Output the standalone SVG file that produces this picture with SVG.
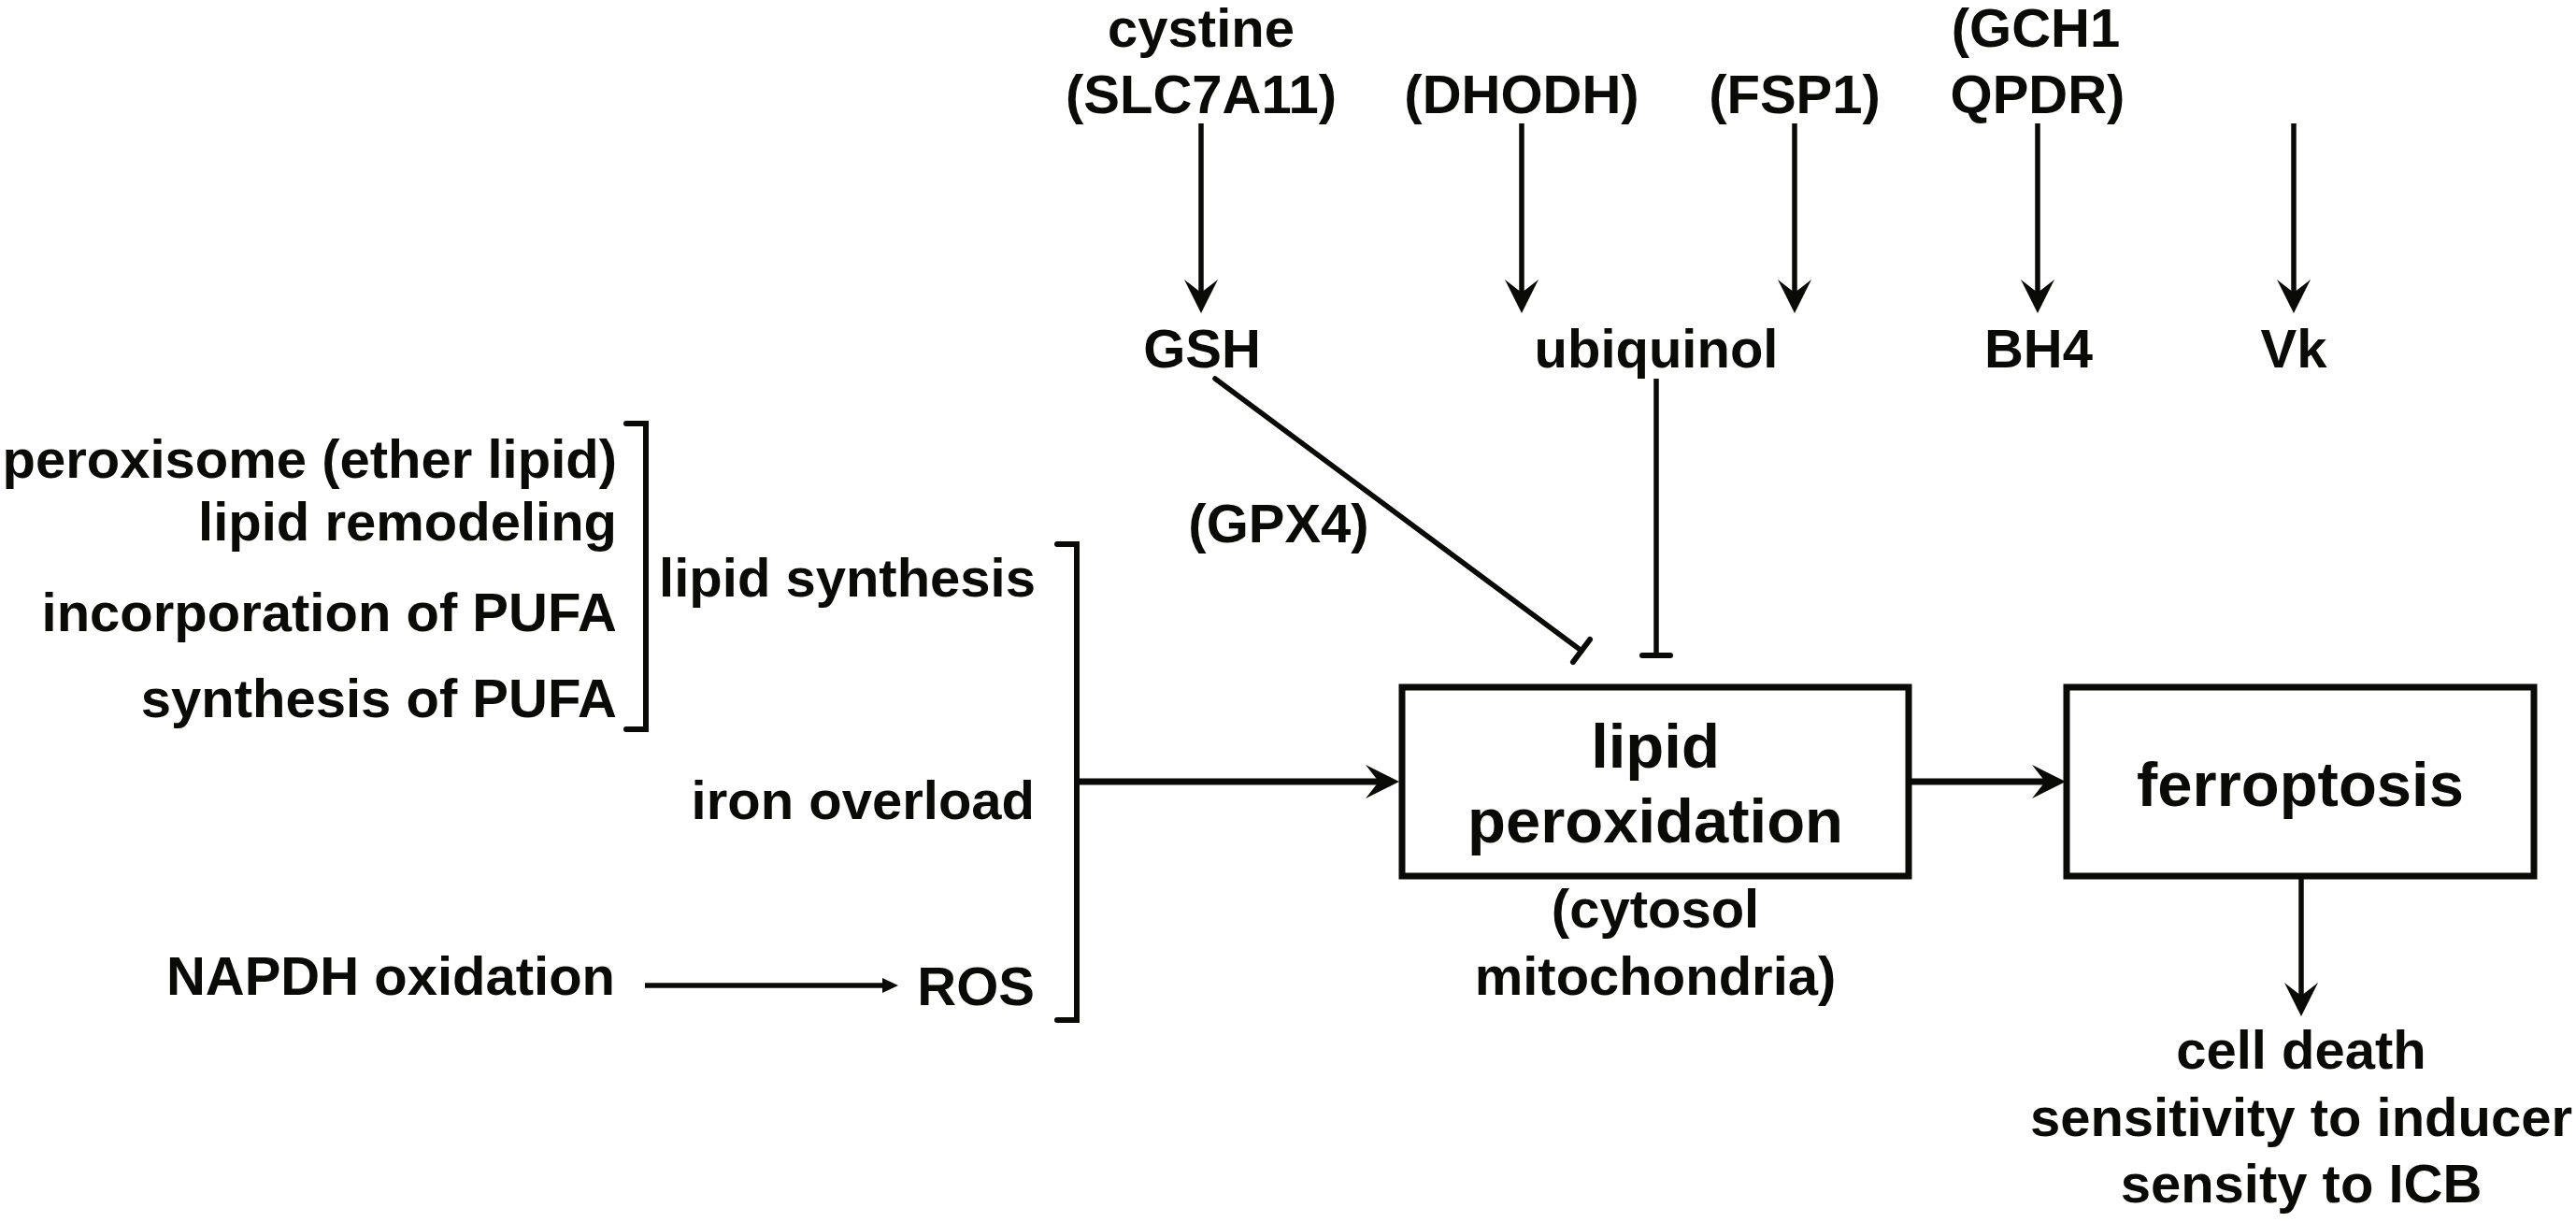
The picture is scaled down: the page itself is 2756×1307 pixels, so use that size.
<svg xmlns="http://www.w3.org/2000/svg" width="2756" height="1307" viewBox="0 0 2756 1307">
<style>
text{font-family:"Liberation Sans",Arial,sans-serif;font-weight:bold;fill:#0a0a06;font-size:58px}
.c{text-anchor:middle}
.e{text-anchor:end}
.big{font-size:67px}
.ln{stroke:#0a0a06;fill:none;stroke-width:5.5}
.thick{stroke-width:7}
.rc{stroke-linecap:round}
.box{stroke:#0a0a06;fill:#fff;stroke-width:7}
.br{stroke:#0a0a06;fill:none;stroke-width:6;stroke-linecap:round;stroke-linejoin:miter}
.bar{stroke:#0a0a06;stroke-width:6;stroke-linecap:round}
</style>
<defs>
<marker id="ah" viewBox="-40 -20 42 40" refX="-22" refY="0" markerWidth="42" markerHeight="40" markerUnits="userSpaceOnUse" orient="auto">
<path d="M0,0 L-36,-18 L-22,0 L-36,18 Z" fill="#0a0a06"/>
</marker>
<marker id="ahs" viewBox="-20 -10 22 20" refX="-15" refY="0" markerWidth="22" markerHeight="20" markerUnits="userSpaceOnUse" orient="auto">
<path d="M0,0 L-17,-8 L-17,8 Z" fill="#0a0a06"/>
</marker>
</defs>

<g id="n-cystine"><text class="c" x="1285" y="50">cystine</text><text class="c" x="1285" y="121">(SLC7A11)</text></g>
<g id="n-dhodh"><text class="c" x="1628" y="121">(DHODH)</text></g>
<g id="n-fsp1"><text class="c" x="1920" y="121">(FSP1)</text></g>
<g id="n-gch1"><text class="c" x="2178" y="50">(GCH1</text><text class="c" x="2180" y="121">QPDR)</text></g>
<g id="n-gsh"><text class="c" x="1286" y="393">GSH</text></g>
<g id="n-ubiquinol"><text class="c" x="1772" y="393">ubiquinol</text></g>
<g id="n-bh4"><text class="c" x="2181" y="393">BH4</text></g>
<g id="n-vk"><text class="c" x="2454" y="393">Vk</text></g>
<g id="n-gpx4"><text class="c" x="1368" y="580">(GPX4)</text></g>

<g id="n-lipid-sub">
<text class="e" x="660" y="511">peroxisome (ether lipid)</text>
<text class="e" x="660" y="578">lipid remodeling</text>
<text class="e" x="660" y="675">incorporation of PUFA</text>
<text class="e" x="660" y="767">synthesis of PUFA</text>
</g>
<g id="n-lipid-synthesis"><text class="e" x="1108" y="638">lipid synthesis</text></g>
<g id="n-iron"><text class="e" x="1107" y="876">iron overload</text></g>
<g id="n-napdh"><text class="e" x="658" y="1064">NAPDH oxidation</text></g>
<g id="n-ros"><text class="e" x="1107" y="1075">ROS</text></g>

<g id="n-lipid-perox">
<rect class="box" x="1500" y="735" width="542" height="202"/>
<text class="c big" x="1771" y="821">lipid</text>
<text class="c big" x="1771" y="901">peroxidation</text>
</g>
<g id="n-location"><text class="c" x="1771" y="992">(cytosol</text><text class="c" x="1771" y="1064">mitochondria)</text></g>
<g id="n-ferroptosis">
<rect class="box" x="2211" y="735" width="500" height="202"/>
<text class="c big" x="2461" y="862">ferroptosis</text>
</g>
<g id="n-outcomes">
<text class="c" x="2462" y="1143">cell death</text>
<text class="c" x="2462" y="1215">sensitivity to inducer</text>
<text class="c" x="2462" y="1286">sensity to ICB</text>
</g>

<g id="connectors">
<line class="ln" x1="1285" y1="132" x2="1285" y2="313" marker-end="url(#ah)"/>
<line class="ln" x1="1628" y1="132" x2="1628" y2="313" marker-end="url(#ah)"/>
<line class="ln" x1="1920" y1="132" x2="1920" y2="313" marker-end="url(#ah)"/>
<line class="ln" x1="2180" y1="132" x2="2180" y2="313" marker-end="url(#ah)"/>
<line class="ln" x1="2454" y1="132" x2="2454" y2="313" marker-end="url(#ah)"/>
<line class="ln rc" x1="1300" y1="405" x2="1692" y2="696"/>
<line class="bar" x1="1701" y1="684" x2="1683" y2="708"/>
<line class="ln" x1="1772" y1="405" x2="1772" y2="701"/>
<line class="bar" x1="1757" y1="701" x2="1787" y2="701"/>
<path class="br" d="M670,453 L691,453 L691,780 L670,780"/>
<path class="br" d="M1131,582 L1152,582 L1152,1091 L1131,1091"/>
<line class="ln thick" x1="1152" y1="836" x2="1475" y2="836" marker-end="url(#ah)"/>
<line class="ln thick" x1="2042" y1="836" x2="2188" y2="836" marker-end="url(#ah)"/>
<line class="ln" x1="2462" y1="937" x2="2462" y2="1065" stroke-width="6" marker-end="url(#ah)"/>
<line class="ln" x1="690" y1="1054" x2="946" y2="1054" stroke-width="5" marker-end="url(#ahs)"/>
</g>
</svg>
